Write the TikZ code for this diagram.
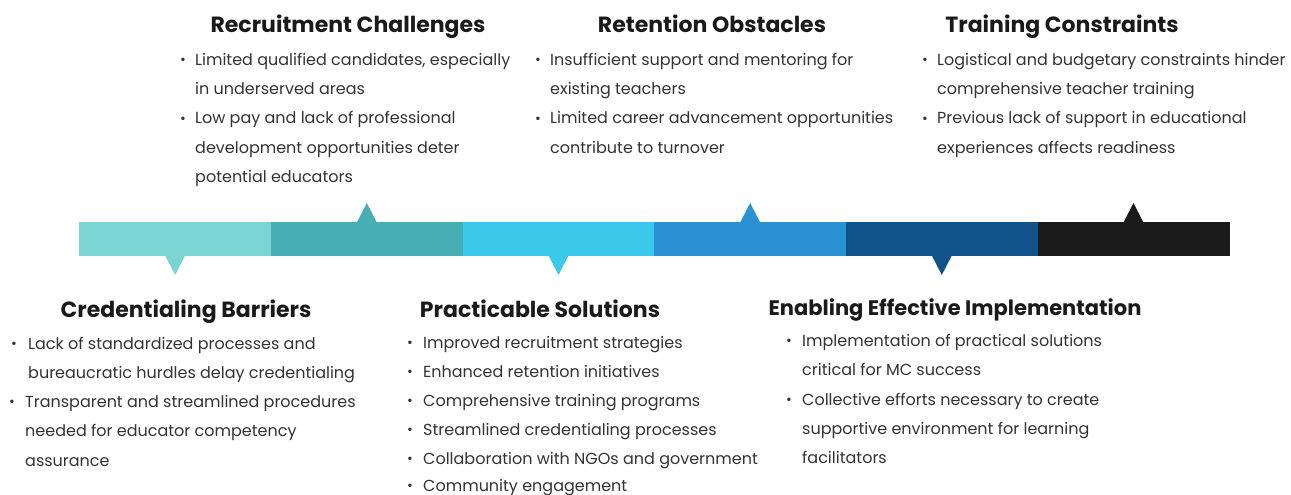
\documentclass[tikz,border=0pt]{standalone}
\usepackage{fontspec}
\setmainfont{Poppins}
\usetikzlibrary{calc}
\definecolor{cA}{HTML}{7AD4D3}
\definecolor{cB}{HTML}{48AEB5}
\definecolor{cC}{HTML}{3AC8EB}
\definecolor{cD}{HTML}{2A91D3}
\definecolor{cE}{HTML}{10528A}
\definecolor{cF}{HTML}{1B1B1B}
\definecolor{txtc}{HTML}{333333}
\definecolor{headc}{HTML}{1A1A1A}
\tikzset{
  seg/.style={rectangle, inner sep=0, minimum width=191.07pt, minimum height=33.4pt, anchor=west, line width=0.6pt},
  head/.style={anchor=base, inner sep=0, font=\fontsize{22}{26}\selectfont\bfseries, text=headc},
  txt/.style={anchor=base west, inner sep=0, font=\fontsize{16}{19}\selectfont, text=txtc},
  bul/.style={anchor=base west, inner sep=0, font=\fontsize{14}{16}\selectfont, text=txtc, yshift=1pt},
}
\newcommand\tl[4]{\node[txt] (#1) at (#2,#3) {#4};}
\newcommand\bp[3]{\node[bul] (#1) at (#2,#3) {\textbullet};}
\begin{document}
\begin{tikzpicture}[x=1pt,y=-1pt]
\useasboundingbox (0,0) rectangle (1291,495);
% bar
\node[seg, fill=cA, draw=cA] (s1) at (79.3,239) {};
\node[seg, fill=cB, draw=cB] (s2) at (s1.east) {};
\node[seg, fill=cC, draw=cC] (s3) at (s2.east) {};
\node[seg, fill=cD, draw=cD] (s4) at (s3.east) {};
\node[seg, fill=cE, draw=cE] (s5) at (s4.east) {};
\node[seg, fill=cF, draw=cF] (s6) at (s5.east) {};
% pointers
\fill[cA] ($(s1.south)+(-10,-0.5)$) -- ($(s1.south)+(10,-0.5)$) -- ($(s1.south)+(0,19)$) -- cycle;
\fill[cB] ($(s2.north)+(-10,0.5)$) -- ($(s2.north)+(10,0.5)$) -- ($(s2.north)+(0,-19)$) -- cycle;
\fill[cC] ($(s3.south)+(-10,-0.5)$) -- ($(s3.south)+(10,-0.5)$) -- ($(s3.south)+(0,19)$) -- cycle;
\fill[cD] ($(s4.north)+(-10,0.5)$) -- ($(s4.north)+(10,0.5)$) -- ($(s4.north)+(0,-19)$) -- cycle;
\fill[cE] ($(s5.south)+(-10,-0.5)$) -- ($(s5.south)+(10,-0.5)$) -- ($(s5.south)+(0,19)$) -- cycle;
\fill[cF] ($(s6.north)+(-10,0.5)$) -- ($(s6.north)+(10,0.5)$) -- ($(s6.north)+(0,-19)$) -- cycle;
% Recruitment Challenges
\node[head] (h1) at (348,33) {Recruitment Challenges};
\bp{b11}{180}{66}\tl{t11}{195}{66}{Limited qualified candidates, especially}
\tl{t12}{195}{95}{in underserved areas}
\bp{b12}{180}{124}\tl{t13}{195}{124}{Low pay and lack of professional}
\tl{t14}{195}{153}{development opportunities deter}
\tl{t15}{195}{182}{potential educators}
% Retention Obstacles
\node[head] (h2) at (712,33) {Retention Obstacles};
\bp{b21}{535}{66}\tl{t21}{550}{66}{Insufficient support and mentoring for}
\tl{t22}{550}{95}{existing teachers}
\bp{b22}{535}{124}\tl{t23}{550}{124}{Limited career advancement opportunities}
\tl{t24}{550}{153}{contribute to turnover}
% Training Constraints
\node[head] (h3) at (1062,33) {Training Constraints};
\bp{b31}{922}{66}\tl{t31}{937}{66}{Logistical and budgetary constraints hinder}
\tl{t32}{937}{95}{comprehensive teacher training}
\bp{b32}{922}{124}\tl{t33}{937}{124}{Previous lack of support in educational}
\tl{t34}{937}{153}{experiences affects readiness}
% Credentialing Barriers
\node[head] (h4) at (186,317) {Credentialing Barriers};
\bp{b41}{11}{349}\tl{t41}{28}{349}{Lack of standardized processes and}
\tl{t42}{28}{378}{bureaucratic hurdles delay credentialing}
\bp{b42}{9}{407}\tl{t43}{25}{407}{Transparent and streamlined procedures}
\tl{t44}{25}{436}{needed for educator competency}
\tl{t45}{25}{466}{assurance}
% Practicable Solutions
\node[head] (h5) at (540,317) {Practicable Solutions};
\bp{b51}{407}{348}\tl{t51}{423}{348}{Improved recruitment strategies}
\bp{b52}{407}{377}\tl{t52}{423}{377}{Enhanced retention initiatives}
\bp{b53}{407}{406}\tl{t53}{423}{406}{Comprehensive training programs}
\bp{b54}{407}{435}\tl{t54}{423}{435}{Streamlined credentialing processes}
\bp{b55}{407}{464}\tl{t55}{423}{464}{Collaboration with NGOs and government}
\bp{b56}{407}{491}\tl{t56}{423}{491}{Community engagement}
% Enabling Effective Implementation
\node[head, font=\fontsize{21}{25}\selectfont\bfseries] (h6) at (955,315) {Enabling Effective Implementation};
\bp{b61}{786}{346}\tl{t61}{802}{346}{Implementation of practical solutions}
\tl{t62}{802}{375}{critical for MC success}
\bp{b62}{786}{405}\tl{t63}{802}{405}{Collective efforts necessary to create}
\tl{t64}{802}{434}{supportive environment for learning}
\tl{t65}{802}{463}{facilitators}
\end{tikzpicture}
\end{document}
